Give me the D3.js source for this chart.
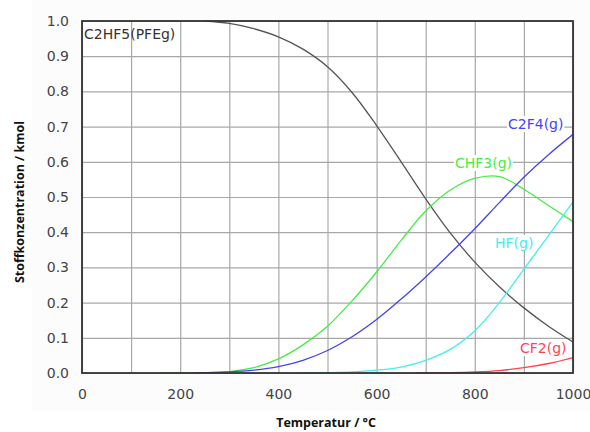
<!DOCTYPE html>
<html><head><meta charset="utf-8">
<script src="https://cdn.jsdelivr.net/npm/d3@7"></script>
<style>
body{margin:0;background:#fff;}
svg{display:block;}
</style></head>
<body>
<svg id="chart" width="590" height="432"></svg>
<script>
// ---- data ----
const xTicks = [0, 200, 400, 600, 800, 1000];
const yTicks = [0, 0.1, 0.2, 0.3, 0.4, 0.5, 0.6, 0.7, 0.8, 0.9, 1.0];
const xGrid = [0,100,200,300,400,500,600,700,800,900,1000];

const tC2HF5 = [250, 300, 350, 400, 450, 500, 550, 600, 650, 700, 750, 800, 850, 900, 950, 1000];
const vC2HF5 = [1.0, 0.993, 0.978, 0.955, 0.92, 0.87, 0.797, 0.703, 0.600, 0.495, 0.398, 0.315, 0.245, 0.185, 0.133, 0.088];

const tCHF3 = [160, 200, 250, 300, 350, 400, 450, 500, 550, 600, 650, 700, 750, 800, 850, 900, 950, 1000];
const vCHF3 = [0, 0.0005, 0.001, 0.004, 0.015, 0.04, 0.08, 0.133, 0.205, 0.287, 0.377, 0.46, 0.52, 0.553, 0.558, 0.522, 0.476, 0.43];

const tC2F4 = [230, 300, 350, 400, 450, 500, 550, 600, 650, 700, 750, 800, 850, 900, 950, 1000];
const vC2F4 = [0, 0.003, 0.008, 0.018, 0.036, 0.064, 0.103, 0.152, 0.21, 0.273, 0.34, 0.41, 0.484, 0.556, 0.62, 0.678];

const tHF = [450, 500, 550, 600, 650, 700, 750, 800, 850, 900, 950, 1000];
const vHF = [0, 0.001, 0.003, 0.008, 0.017, 0.036, 0.067, 0.12, 0.2, 0.295, 0.39, 0.486];

const tCF2 = [680, 750, 800, 850, 900, 950, 1000];
const vCF2 = [0, 0.001, 0.003, 0.007, 0.015, 0.027, 0.044];

const seriesNames = ["C2HF5(PFEg)", "CHF3(g)", "C2F4(g)", "HF(g)", "CF2(g)"];

// ---- layout ----
const svg = d3.select("#chart");
const L = 82, T = 21, W = 491, H = 352;
const x = d3.scaleLinear().domain([0, 1000]).range([L, L + W]);
const y = d3.scaleLinear().domain([0, 1]).range([T + H, T]);

svg.append("rect").attr("x", 32).attr("y", 0).attr("width", 558).attr("height", 410).attr("fill", "#fcfcfc");
svg.append("rect").attr("x", L).attr("y", T).attr("width", W).attr("height", H).attr("fill", "#fff");

// grid
const gx = svg.append("g").attr("transform", `translate(0,${T + H})`)
  .call(d3.axisBottom(x).tickValues(xGrid).tickSize(-H).tickFormat(""));
const gy = svg.append("g").attr("transform", `translate(${L},0)`)
  .call(d3.axisLeft(y).tickValues(yTicks).tickSize(-W).tickFormat(""));
[gx, gy].forEach(g => {
  g.select(".domain").remove();
  g.selectAll("line").attr("stroke", "#a8a8a8").attr("stroke-width", 1.2);
});

// tick labels
const ax = svg.append("g").attr("transform", `translate(0,${T + H})`)
  .call(d3.axisBottom(x).tickValues(xTicks).tickSize(0).tickPadding(16).tickFormat(d3.format("d")));
const ay = svg.append("g").attr("transform", `translate(${L},0)`)
  .call(d3.axisLeft(y).tickValues(yTicks).tickSize(0).tickPadding(13).tickFormat(d3.format(".1f")));
[ax, ay].forEach(g => {
  g.select(".domain").remove();
  g.selectAll("text").attr("fill", "#444").style("font-family", "DejaVu Sans").style("font-size", "14px");
});

// lines
const line = d3.line().x(d => x(d[0])).y(d => y(d[1])).curve(d3.curveCatmullRom.alpha(0.5));
const zip = (a, b) => a.map((t, i) => [t, b[i]]);
const series = [
  {t: tC2HF5, v: vC2HF5, c: "#555555"},
  {t: tCHF3, v: vCHF3, c: "#44ee44"},
  {t: tC2F4, v: vC2F4, c: "#4444ee"},
  {t: tHF, v: vHF, c: "#44eeee"},
  {t: tCF2, v: vCF2, c: "#ff4444"}
];
svg.append("clipPath").attr("id", "pc").append("rect")
  .attr("x", L).attr("y", T - 1).attr("width", W).attr("height", H + 1);
const gl = svg.append("g").attr("clip-path", "url(#pc)");
series.forEach(s => {
  gl.append("path").attr("d", line(zip(s.t, s.v))).attr("fill", "none")
    .attr("stroke", s.c).attr("stroke-width", 1.3);
});

// labels with white boxes
const labels = [
  {name: seriesNames[1], x: 455, y: 168, c: "#44ee44"},
  {name: seriesNames[2], x: 508, y: 129, c: "#4444ff"},
  {name: seriesNames[3], x: 495, y: 248, c: "#44eeee"},
  {name: seriesNames[4], x: 520, y: 353, c: "#ff4455"}
];
labels.forEach(l => {
  const g = svg.append("g");
  const tx = g.append("text").attr("x", l.x).attr("y", l.y).text(l.name)
    .attr("fill", l.c).style("font-family", "DejaVu Sans").style("font-size", "14px");
  const b = tx.node().getBBox();
  g.insert("rect", "text").attr("x", b.x - 1).attr("y", b.y).attr("width", b.width + 2).attr("height", b.height).attr("fill", "#fff");
});

// frame
svg.append("rect").attr("x", L).attr("y", T).attr("width", W).attr("height", H)
  .attr("fill", "none").attr("stroke", "#333").attr("stroke-width", 1.8);

// top-left series label
svg.append("text").attr("x", 84).attr("y", 39).text(seriesNames[0])
  .attr("fill", "#333").style("font-family", "DejaVu Sans").style("font-size", "14px");

// axis titles
svg.append("text").attr("x", 326).attr("y", 427).attr("text-anchor", "middle")
  .text("Temperatur / °C").attr("fill", "#111")
  .style("font-family", "Open Sans").style("font-weight", "bold").style("font-size", "12.5px");
svg.append("text").attr("transform", "translate(24,202) rotate(-90)").attr("text-anchor", "middle")
  .text("Stoffkonzentration / kmol").attr("fill", "#111")
  .style("font-family", "Open Sans").style("font-weight", "bold").style("font-size", "12.5px");
</script>
</body></html>
